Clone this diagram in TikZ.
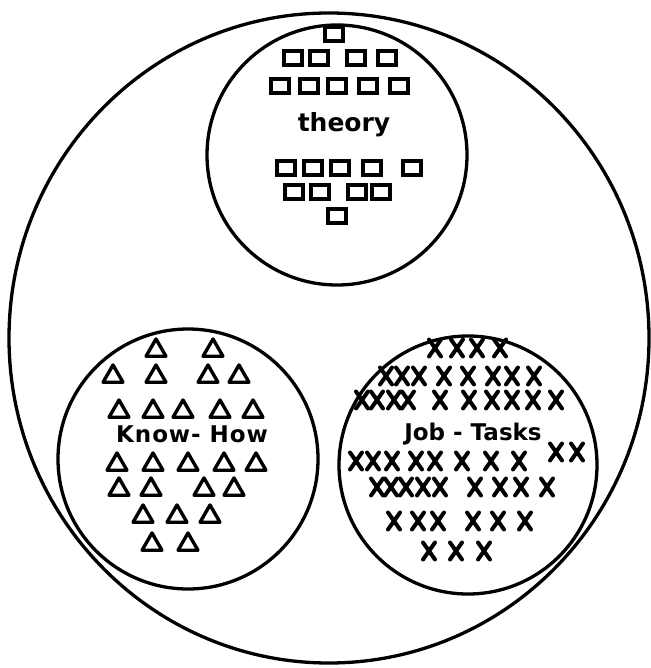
\documentclass[tikz,border=0pt]{standalone}
\usepackage{fontspec}
\newfontfamily\handfont{DejaVu Sans}
\usetikzlibrary{shapes.geometric,shapes.misc}

\begin{document}
\begin{tikzpicture}[x=1pt, y=-1pt,
  ring/.style={circle, draw, line width=3.3pt, minimum size=260pt, inner sep=0pt},
  box/.style={rectangle, draw, line width=3.4pt, minimum width=18pt, minimum height=14pt, inner sep=0pt},
  tri/.style={regular polygon, regular polygon sides=3, draw, line width=3.4pt, line join=round, minimum size=23pt, inner sep=0pt, yshift=-2.5pt},
  xmark/.style={cross out, draw, line width=4pt, line cap=round, minimum width=8pt, minimum height=13pt, inner sep=0pt},
  word/.style={font=\handfont\bfseries\fontsize{23}{27}\selectfont, inner sep=0pt, anchor=base}
]
\useasboundingbox (0,0) rectangle (650,668);

% the whole and its three parts
\node[ellipse, draw, line width=3.3pt, minimum width=640pt, minimum height=650pt, inner sep=0pt] (whole) at (329,338) {};
\node[ring] (theoryset) at (337,155) {};
\node[ring] (knowset) at (188,459) {};
\node[ring, minimum size=258pt] (jobset) at (468,465) {};

% labels
\node[word, font=\handfont\bfseries\fontsize{25}{29}\selectfont] (theorylbl) at (344,132) {theory};
\node[word, font=\handfont\bfseries\fontsize{23}{27}\selectfont\addfontfeature{LetterSpace=4}] (knowlbl) at (192,442) {Know- How};
\node[word] (joblbl) at (473,440) {Job - Tasks};

% squares
\foreach \px/\py [count=\k] in {334/34,
    293/58, 319/58, 356/58, 387/58,
    280/86, 309/86, 337/86, 368/86, 399/86,
    286/168, 313/168, 340/168, 372/168, 412/168,
    294/192, 320/192, 357/192, 381/192,
    337/216}
  \node[box] (sq\k) at (\px,\py) {};

% triangles
\foreach \px/\py [count=\k] in {156/348, 213/348,
    113/374, 156/374, 208/374, 239/374,
    119/409, 153/409, 183/409, 220/409, 253/409,
    117/462, 153/462, 188/462, 224/462, 256/462,
    119/487, 151/487, 204/487, 234/487,
    143/514, 177/514, 210/514,
    152/542, 188/542}
  \node[tri] (tr\k) at (\px,\py) {};

% crosses
\foreach \px/\py [count=\k] in {435/348, 457/348, 477/348, 500/348,
    386/376, 402/376, 419/376, 444/376, 468/376, 493/376, 512/376, 534/376,
    362/400, 377/400, 394/400, 408/400, 440/400, 469/400, 492/400, 512/400, 533/400, 556/400,
    356/461, 373/461, 392/461, 416/461, 435/461, 462/461, 491/461, 519/461, 556/452, 577/452,
    377/487, 391/487, 406/487, 423/487, 440/487, 475/487, 500/487, 521/487, 547/487,
    394/521, 418/521, 438/521, 473/521, 498/521, 525/521,
    429/551, 456/551, 484/551}
  \node[xmark] (xm\k) at (\px,\py) {};
\end{tikzpicture}
\end{document}
